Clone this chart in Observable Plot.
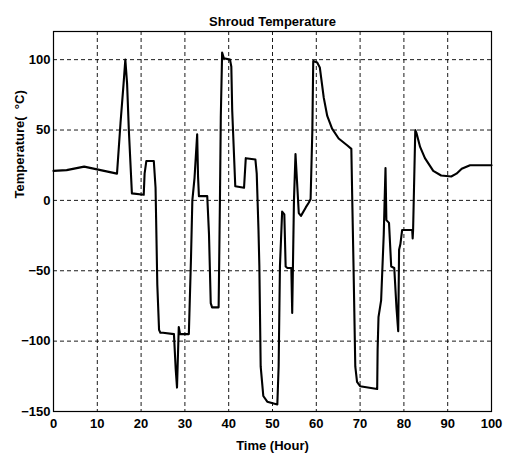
<!DOCTYPE html>
<html>
<head>
<meta charset="utf-8">
<script src="https://cdn.jsdelivr.net/npm/d3@7"></script>
<script src="https://cdn.jsdelivr.net/npm/@observablehq/plot@0.6"></script>
<style>
  html, body { margin: 0; padding: 0; background: #fff; }
  #chart svg { display: block; }
</style>
</head>
<body>
<div id="chart"></div>
<script>
// Shroud temperature record over the test run (hours, °C)
const hours = [
  0, 3, 7, 14.5, 15.3, 16.0, 16.4, 16.8, 17.2, 17.9, 20.6, 20.8, 21.2, 22.9, 23.3,
  23.7, 24.1, 24.4, 25.0, 27.5, 27.9, 28.2, 28.6, 28.9, 30.9, 31.4, 31.7, 32.2, 32.8,
  33.0, 33.2, 35.1, 35.5, 35.9, 36.2, 37.7, 38.0, 38.2, 38.5, 38.9, 40.3, 40.6, 40.8,
  41.5, 43.5, 43.9, 46.1, 46.4, 46.8, 47.0, 47.3, 47.9, 48.8, 51.1, 51.4, 51.7, 52.2,
  52.7, 53.0, 53.4, 54.3, 54.5, 54.9, 55.25, 56.0, 56.5, 57.6, 58.3, 58.7, 59.1, 59.3,
  60.2, 60.8, 61.7, 62.5, 63.6, 65.1, 67.1, 68.0, 68.2, 68.5, 68.9, 69.3, 70.0, 73.9,
  74.0, 74.2, 74.8, 75.4, 75.6, 75.8, 76.0, 76.6, 77.1, 77.8, 78.3, 78.7, 78.9, 79.2,
  79.6, 81.9, 82.0, 82.1, 82.6, 82.9, 83.7, 84.8, 86.7, 88.5, 90.8, 92.0, 93.2, 95.1, 100
];
const temps = [
  21, 21.5, 24, 19, 55, 83, 100, 83, 50, 5, 4, 19, 28, 28, 9,
  -60, -92, -94, -94, -95, -120, -133, -90, -95, -95, -40, 0, 16, 47,
  17, 3, 3, -24, -73, -76, -76, 0, 60, 105, 101, 100, 95, 64,
  10, 9, 30, 29, 19, -21, -47, -118, -139, -143, -145, -118, -47, -8,
  -10, -47, -48, -48, -80, 0, 33, -9, -11, -5, -1.5, 1, 50, 99,
  98, 94.5, 73, 60, 51, 44, 39, 36.6, 2, -47, -118, -129, -132, -134,
  -106, -83, -71, -24, 0, 23, -14, -16, -47, -48, -76, -93, -35, -31,
  -21, -21, -27, -21, 50, 47.6, 38, 30, 21, 17.7, 17, 19, 22.5, 25, 25
];

const xTicks = [0, 10, 20, 30, 40, 50, 60, 70, 80, 90, 100];
const yTicks = [-150, -100, -50, 0, 50, 100];

const chartTitle = "Shroud Temperature";
const xLabel = "Time (Hour)";
const yLabel = "Temperature(\u00a0\u00a0°C)";

const series = hours.map((h, i) => ({hour: h, temp: temps[i]}));

const font = "'Liberation Sans Narrow', 'Arial Narrow', 'Liberation Sans', Arial, sans-serif";

const chart = Plot.plot({
  width: 506,
  height: 463,
  marginLeft: 53,
  marginRight: 15,
  marginTop: 31,
  marginBottom: 52,
  style: {fontFamily: font, fontSize: "13px", fontWeight: "bold", color: "#000", background: "#fff"},
  x: {domain: [0, 100]},
  y: {domain: [-150, 120]},
  marks: [
    Plot.gridX(xTicks, {stroke: "#000", strokeOpacity: 1, strokeWidth: 0.9, strokeDasharray: "4,3"}),
    Plot.gridY(yTicks, {stroke: "#000", strokeOpacity: 1, strokeWidth: 0.9, strokeDasharray: "4,3"}),
    Plot.axisX(xTicks, {tickSize: 0, tickPadding: 7, label: null, fontSize: 13}),
    Plot.axisY(yTicks, {tickSize: 0, tickPadding: 3, label: null, fontSize: 13}),
    Plot.line(series, {x: "hour", y: "temp", stroke: "#000", strokeWidth: 2.1, strokeLinejoin: "round"}),
    Plot.frame({stroke: "#000", strokeWidth: 1.2}),
    Plot.text([chartTitle], {frameAnchor: "top", dy: -15, fontSize: 13, fontWeight: "bold"}),
    Plot.text([xLabel], {frameAnchor: "bottom", dy: 38, fontSize: 13, fontWeight: "bold"}),
    Plot.text([yLabel], {frameAnchor: "left", dx: -34, dy: -23, rotate: -90, fontSize: 13, fontWeight: "bold"})
  ]
});

document.getElementById("chart").appendChild(chart);
</script>
</body>
</html>
